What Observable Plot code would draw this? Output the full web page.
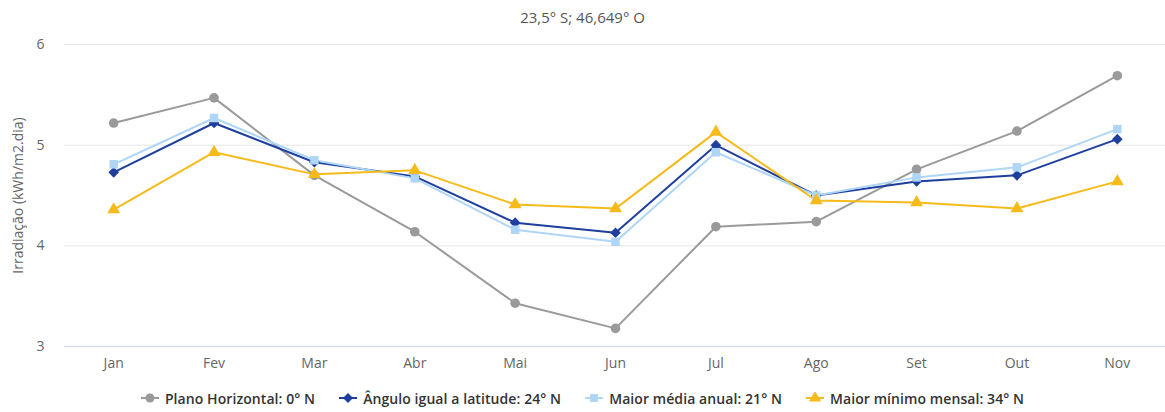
<!DOCTYPE html>
<html>
<head>
<meta charset="utf-8">
<script src="https://cdn.jsdelivr.net/npm/d3@7"></script>
<script src="https://cdn.jsdelivr.net/npm/@observablehq/plot@0.6"></script>
<style>
  html, body { margin: 0; padding: 0; background: #fff; }
  body { width: 1165px; height: 412px; overflow: hidden; font-family: "Open Sans", sans-serif; }
  #title { height: 34px; line-height: 34px; text-align: center; font-size: 15px; color: #555; }
  #legend { height: 28px; display: flex; justify-content: center; align-items: center; gap: 24px; font-size: 14px; font-weight: 600; letter-spacing: 0.08px; color: #333; }
  .item { display: flex; align-items: center; gap: 6px; }
  #chart svg { display: block; }
</style>
</head>
<body>
<div id="title"></div>
<div id="chart"></div>
<div id="legend"></div>
<script>
const titleText = "23,5° S; 46,649° O";
const yLabel = "Irradiação (kWh/m2.dia)";
const months = ["Jan","Fev","Mar","Abr","Mai","Jun","Jul","Ago","Set","Out","Nov"];
const yTicks = [3, 4, 5, 6];
const seriesNames = ["Plano Horizontal: 0° N", "Ângulo igual a latitude: 24° N", "Maior média anual: 21° N", "Maior mínimo mensal: 34° N"];
const seriesColors = ["#9a9a9a", "#1f3f9f", "#afd6f6", "#f6bb1b"];
const seriesSymbols = ["circle", "diamond2", "square", "triangle"];
const horizontal = [5.22, 5.47, 4.70, 4.14, 3.43, 3.18, 4.19, 4.24, 4.76, 5.14, 5.69];
const latitude   = [4.73, 5.22, 4.83, 4.69, 4.23, 4.13, 5.00, 4.50, 4.64, 4.70, 5.06];
const mediaAnual = [4.81, 5.27, 4.85, 4.67, 4.16, 4.04, 4.93, 4.50, 4.68, 4.78, 5.16];
const minMensal  = [4.36, 4.93, 4.71, 4.75, 4.41, 4.37, 5.13, 4.45, 4.43, 4.37, 4.64];

document.getElementById("title").textContent = titleText;

const seriesValues = [horizontal, latitude, mediaAnual, minMensal];
const data = [];
seriesValues.forEach((vals, si) => {
  vals.forEach((v, i) => data.push({month: months[i], value: v, series: seriesNames[si]}));
});

const chart = Plot.plot({
  width: 1165,
  height: 350,
  marginLeft: 64,
  marginRight: 0,
  marginTop: 10,
  marginBottom: 38,
  style: {fontFamily: "Open Sans, sans-serif", fontSize: "14px", color: "#666", background: "#fff"},
  x: {type: "point", domain: months, range: [63, 1167], padding: 0.5, round: false},
  y: {domain: [3, 6]},
  color: {domain: seriesNames, range: seriesColors},
  symbol: {domain: seriesNames, range: seriesSymbols},
  marks: [
    Plot.gridY(yTicks, {stroke: "#e6e6e6", strokeOpacity: 1, strokeWidth: 1}),
    Plot.ruleY([3], {stroke: "#ccd6eb", strokeWidth: 1}),
    Plot.axisY(yTicks, {tickSize: 0, tickPadding: 20, fill: "#666", fontSize: 14, tickFormat: d3.format("d"), label: null}),
    Plot.axisX({tickSize: 0, tickPadding: 12, fill: "#666", fontSize: 14, label: null}),
    Plot.text([yLabel], {frameAnchor: "left", dx: -46, rotate: -90, fill: "#666", fontSize: 14, textAnchor: "middle"}),
    Plot.line(data, {x: "month", y: "value", z: "series", stroke: "series", strokeWidth: 2}),
    Plot.dot(data, {x: "month", y: "value", fill: "series", symbol: "series", r: 4.8, stroke: "none"})
  ]
});
document.getElementById("chart").appendChild(chart);

const legend = document.getElementById("legend");
seriesNames.forEach((name, i) => {
  const item = document.createElement("div");
  item.className = "item";
  const sym = d3.create("svg").attr("width", 18).attr("height", 12);
  sym.append("line").attr("x1", 0).attr("x2", 18).attr("y1", 6).attr("y2", 6).attr("stroke", seriesColors[i]).attr("stroke-width", 2);
  const symType = [d3.symbolCircle, d3.symbolDiamond2, d3.symbolSquare, d3.symbolTriangle][i];
  sym.append("path").attr("d", d3.symbol(symType, 64)()).attr("transform", "translate(9,6)").attr("fill", seriesColors[i]);
  item.appendChild(sym.node());
  const span = document.createElement("span");
  span.textContent = name;
  item.appendChild(span);
  legend.appendChild(item);
});
</script>
</body>
</html>
